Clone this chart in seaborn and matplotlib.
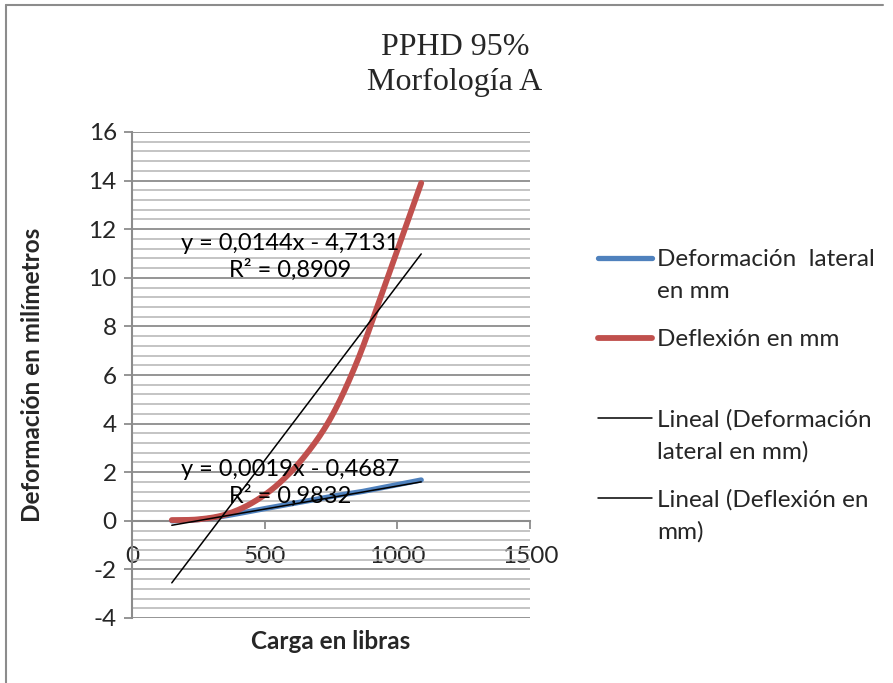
import numpy as np
import pandas as pd
import seaborn as sns
import matplotlib
matplotlib.use("Agg")
import matplotlib.pyplot as plt
from matplotlib.ticker import MultipleLocator
from matplotlib.lines import Line2D

# ---- data ----
carga = [150, 250, 350, 450, 550, 650, 750, 850, 950, 1090]
deform_lateral = [0.0, 0.05, 0.2, 0.4, 0.6, 0.8, 1.0, 1.17, 1.38, 1.68]
deflexion = [0.03, 0.06, 0.25, 0.72, 1.5, 2.65, 4.25, 6.6, 9.6, 13.9]

trend_slope = [0.0019, 0.0144]
trend_intercept = [-0.4687, -4.7131]
trend_text = ["y = 0,0019x - 0,4687\nR² = 0,9832", "y = 0,0144x - 4,7131\nR² = 0,8909"]
trend_text_pos = [(595, 1.56), (595, 10.86)]

series_names = ["Deformación  lateral\nen mm", "Deflexión en mm"]
trend_names = ["Lineal (Deformación\nlateral en mm)", "Lineal (Deflexión en\nmm)"]
title_lines = ["PPHD 95%", "Morfología A"]
xticks = [0, 500, 1000, 1500]
yticks = [-4, -2, 0, 2, 4, 6, 8, 10, 12, 14, 16]

colors = ["#4F81BD", "#C0504D"]

sns.set_theme(style="white")
plt.rcParams["font.family"] = ["Lato", "DejaVu Sans"]

FS = 17.5
W, H = 893, 683
fig = plt.figure(figsize=(W / 100, H / 100), dpi=100)
ax = fig.add_axes([132 / W, 1 - 618 / H, (530 - 132) / W, (618 - 132) / H])

df = pd.DataFrame({"carga": carga, "lat": deform_lateral, "def": deflexion})


def smooth(x, y, seg=30):
    """Catmull-Rom smoothing through the points (like Excel's smoothed line)."""
    pts = np.column_stack([np.asarray(x, float), np.asarray(y, float)])
    out = []
    for i in range(len(pts) - 1):
        p0 = pts[i - 1] if i > 0 else pts[i]
        p1 = pts[i]
        p2 = pts[i + 1]
        p3 = pts[i + 2] if i + 2 < len(pts) else pts[i + 1]
        for t in np.linspace(0, 1, seg, endpoint=False):
            t2, t3 = t * t, t * t * t
            pt = 0.5 * ((2 * p1) + (-p0 + p2) * t + (2 * p0 - 5 * p1 + 4 * p2 - p3) * t2
                        + (-p0 + 3 * p1 - 3 * p2 + p3) * t3)
            out.append(pt)
    out.append(pts[-1])
    out = np.array(out)
    return pd.DataFrame({"x": out[:, 0], "y": out[:, 1]})


s_lat = smooth(df["carga"], df["lat"])
s_def = smooth(df["carga"], df["def"])
sns.lineplot(data=s_lat, x="x", y="y", ax=ax, color=colors[0], lw=3.8, sort=False,
             solid_capstyle="round", zorder=3)
sns.lineplot(data=s_def, x="x", y="y", ax=ax, color=colors[1], lw=4.2, sort=False,
             solid_capstyle="round", zorder=4)

xmin, xmax = min(carga), max(carga)
for m, b in zip(trend_slope, trend_intercept):
    tx = pd.DataFrame({"x": [xmin, xmax], "y": [m * xmin + b, m * xmax + b]})
    sns.lineplot(data=tx, x="x", y="y", ax=ax, color="black", lw=1.1, zorder=5)

for txt, (px, py) in zip(trend_text, trend_text_pos):
    ax.text(px, py, txt, ha="center", va="center", fontsize=17, color="black",
            zorder=6, linespacing=1.3)

ax.set_xlim(0, 1500)
ax.set_ylim(-4, 16)
ax.set_xticks(xticks)
ax.set_yticks(yticks)
ax.set_xticklabels([str(v) for v in xticks])
ax.set_yticklabels([str(v) for v in yticks])
ax.yaxis.set_minor_locator(MultipleLocator(0.4))

ax.grid(which="major", axis="y", color="#8C8C8C", lw=1.3, zorder=0)
ax.grid(which="minor", axis="y", color="#B4B4B4", lw=1.1, zorder=0)
ax.grid(which="major", axis="x", visible=False)
ax.set_axisbelow(True)

for s in ["top", "right"]:
    ax.spines[s].set_visible(False)
ax.spines["left"].set_color("#8C8C8C")
ax.spines["left"].set_linewidth(1.5)
ax.spines["bottom"].set_position(("data", 0))
ax.spines["bottom"].set_color("#8C8C8C")
ax.spines["bottom"].set_linewidth(1.5)

ax.tick_params(axis="y", which="major", direction="out", length=6, width=1.3,
               color="#8C8C8C", labelsize=FS, pad=5, left=True)
ax.tick_params(axis="y", which="minor", length=0)
ax.tick_params(axis="x", which="major", direction="out", length=6, width=1.3,
               color="#8C8C8C", labelsize=FS, pad=12, bottom=True)

ax.set_xlabel("Carga en libras", fontsize=FS, fontweight="bold")
ax.set_ylabel("Deformación en milímetros", fontsize=FS, fontweight="bold")
ax.xaxis.set_label_coords(0.5, -0.025)
ax.yaxis.set_label_coords(-0.222, 0.5)

fig.text(455 / W, 1 - 65 / H, "\n".join(title_lines), ha="center", va="center",
         fontsize=23, family=["Liberation Serif", "DejaVu Serif"], linespacing=1.3)

# manual legend (handles aligned with first line, like the reference)
leg_y = [258, 338, 418, 498]
leg_col = [colors[0], colors[1], "black", "black"]
leg_lw = [3.8, 4.2, 1.1, 1.1]
for y, c, lw, lab in zip(leg_y, leg_col, leg_lw, series_names + trend_names):
    yf = 1 - y / H
    fig.add_artist(Line2D([598 / W, 652 / W], [yf, yf], color=c, lw=lw,
                          solid_capstyle="round", transform=fig.transFigure))
    fig.text(657 / W, 1 - (y - 9) / H, lab, ha="left", va="top", fontsize=FS,
             linespacing=1.62)

# outer frame (top and left edges)
fig.add_artist(Line2D([6 / W, 6 / W], [0, 1 - 5 / H], color="#8C8C8C", lw=1.5,
                      transform=fig.transFigure))
fig.add_artist(Line2D([6 / W, 883 / W], [1 - 5 / H, 1 - 5 / H], color="#8C8C8C", lw=1.5,
                      transform=fig.transFigure))

fig.savefig("out.png", dpi=100)
